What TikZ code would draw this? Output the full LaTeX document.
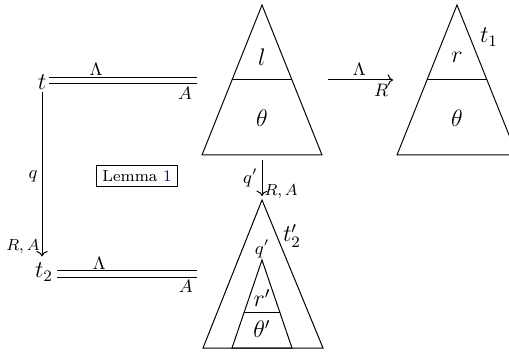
\documentclass[tikz,border=0pt]{standalone}
\usepackage{amsmath,amssymb}
\usepackage{xcolor}
\usepackage{tikz}
\usetikzlibrary{arrows.meta,positioning,calc}
\definecolor{linkblue}{rgb}{0.05,0.05,0.55}

\begin{document}
\begin{tikzpicture}[
  x=0.5pt, y=-0.5pt,
  every node/.style={inner sep=1pt},
  lab/.style={font=\large},
  elab/.style={font=\small},
  slab/.style={font=\footnotesize},
  tri/.style={line width=0.5pt},
  eqline/.style={double, double distance=2.6pt, line width=0.5pt},
  arr/.style={->, line width=0.5pt},
  lemmabox/.style={draw, rectangle, line width=0.5pt, inner xsep=3pt, inner ysep=2.5pt, font=\footnotesize}
]
  \useasboundingbox (0,0) rectangle (509,353);
  \clip (0,0) rectangle (509,353);

  % triangles
  \coordinate (apex1) at (262,5);
  \coordinate (apex2) at (457,5);
  \coordinate (apex3) at (262,200);
  \coordinate (apex4) at (262,260);
  \draw[tri] (apex1) -- (202,155) -- (322,155) -- cycle;
  \draw[tri] (232,80) -- (292,80);
  \draw[tri] (apex2) -- (397,155) -- (517,155) -- cycle;
  \draw[tri] (427,80) -- (487,80);
  \draw[tri] (apex3) -- (203,348) -- (323,348) -- cycle;
  \draw[tri] (apex4) -- (232,348) -- (292,348) -- cycle;
  \draw[tri] (244,312) -- (280,312);

  % labels in the triangles
  \node[lab] (l) at (262,57) {$l$};
  \node[lab] (th1) at (262,118) {$\theta$};
  \node[lab] (r) at (457,57) {$r$};
  \node[lab] (th2) at (457,118) {$\theta$};
  \node[lab] (t1) at (489,37) {$t_1$};
  \node[lab] (t2p) at (292,236) {$t'_2$};
  \node[elab] (qp) at (262,249) {$q'$};
  \node[lab] (rp) at (262,298) {$r'$};
  \node[lab] (thp) at (262,329) {$\theta'$};

  % terms on the left
  \node[lab] (t) at (42,82) {$t$};
  \node[lab] (t2) at (44,272) {$t_2$};
  \node[lemmabox] (lemma) at (137,176) {Lemma \textcolor{linkblue}{1}};

  \coordinate (e1) at (197,80.5);
  \coordinate (e2) at (197,274);
  \coordinate (s1) at (328,80);
  \coordinate (s2) at (393,80);
  \coordinate (d1) at (262,160);

  \draw[eqline] (t.east |- e1) -- node[pos=0.32, above=1pt, elab]{$\Lambda$} node[pos=0.92, below=2pt, elab]{$A$} (e1);
  \draw[eqline] ([xshift=1pt]t2.east |- e2) -- node[pos=0.3, above=1pt, elab]{$\Lambda$} node[pos=0.92, below=2pt, elab]{$A$} (e2);
  \draw[arr] (s1) -- node[pos=0.48, above=1pt, elab]{$\Lambda$} node[pos=0.82, below=1pt, elab]{$R$} (s2);
  \draw[arr, shorten >=2pt] (t.south) -- node[left=1pt, elab]{$q$} node[pos=0.92, left=0pt, slab]{$R,A$} (t.south |- t2.north);
  \draw[arr] (d1) -- node[pos=0.5, left=1pt, elab]{$q'$} node[pos=0.88, right=0pt, slab]{$R,A$} ([yshift=2pt]apex3);
\end{tikzpicture}
\end{document}
